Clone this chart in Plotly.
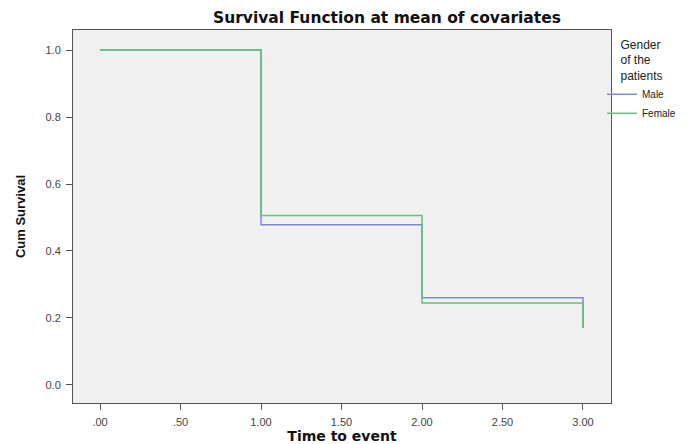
import plotly.graph_objects as go

# Survival step values
time_male = [0, 1, 1, 2, 2, 3, 3]
surv_male = [1.0, 1.0, 0.478, 0.478, 0.26, 0.26, 0.17]
time_female = [0, 1, 1, 2, 2, 3, 3]
surv_female = [1.0, 1.0, 0.506, 0.506, 0.245, 0.245, 0.17]

x_ticks = [0, 0.5, 1, 1.5, 2, 2.5, 3]
x_ticktext = [".00", ".50", "1.00", "1.50", "2.00", "2.50", "3.00"]
y_ticks = [0, 0.2, 0.4, 0.6, 0.8, 1.0]
y_ticktext = ["0.0", "0.2", "0.4", "0.6", "0.8", "1.0"]

# page body has an 8px margin, so the figure is drawn 8px in from the corner
OFF = 8
W, H = 687, 444 - OFF

fig = go.Figure()
fig.add_trace(go.Scatter(x=time_male, y=surv_male, mode="lines", name="Male",
                         line=dict(color="rgb(125,138,210)", width=1.5)))
fig.add_trace(go.Scatter(x=time_female, y=surv_female, mode="lines", name="Female",
                         line=dict(color="rgb(95,195,115)", width=1.5)))

axis_style = dict(showgrid=False, zeroline=False, showline=True, mirror=True,
                  linecolor="#555555", linewidth=1, ticks="outside", ticklen=6,
                  tickcolor="#555555", ticklabelstandoff=3,
                  tickfont=dict(family="Liberation Sans, Arial", size=11, color="#444444"))

fig.update_xaxes(range=[-0.168, 3.174], tickvals=x_ticks, ticktext=x_ticktext,
                 title=dict(text="<b>Time to event</b>", standoff=4,
                            font=dict(family="DejaVu Sans", size=14, color="#111111")),
                 **axis_style)
fig.update_yaxes(range=[-0.054, 1.06], tickvals=y_ticks, ticktext=y_ticktext,
                 title=dict(text="<b>Cum Survival</b>", standoff=16,
                            font=dict(family="Liberation Sans, Arial", size=13, color="#111111")),
                 **axis_style)

fig.update_layout(
    width=W, height=H,
    margin=dict(l=73 - OFF, r=W + OFF - 611, t=30 - OFF, b=444 - 403, autoexpand=False),
    paper_bgcolor="white",
    plot_bgcolor="#f0f0f0",
    title=dict(text="<b>Survival Function at mean of covariates</b>",
               x=(387 - OFF) / W, xanchor="center", y=1 - (18 - OFF) / H, yanchor="middle",
               font=dict(family="DejaVu Sans", size=15.5, color="#111111")),
    legend=dict(xref="container", yref="container", x=(602 - OFF) / W, y=1 - (33 - OFF) / H,
                xanchor="left", yanchor="top",
                bgcolor="rgba(0,0,0,0)",
                title=dict(text="Gender<br>of the<br>patients", side="top center",
                           font=dict(family="Liberation Sans, Arial", size=12, color="#222222")),
                font=dict(family="Liberation Sans, Arial", size=10, color="#222222"),
                itemwidth=30, tracegroupgap=0),
    showlegend=True,
)

fig.write_html("out.html")
